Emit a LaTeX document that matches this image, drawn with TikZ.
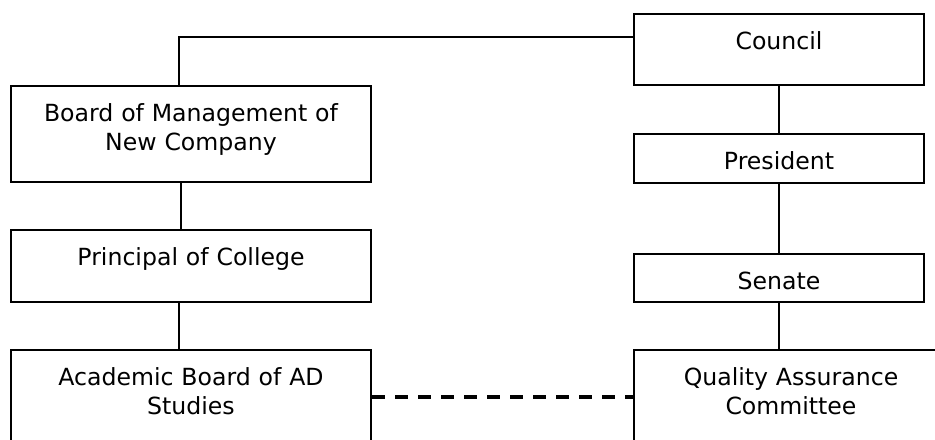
\documentclass[tikz,border=0pt]{standalone}
\usepackage{fontspec}
\setmainfont{DejaVu Sans}
\usepackage{tikz}

\tikzset{
  orgbox/.style={draw, line width=1pt, inner sep=0pt, align=center,
    anchor=north west, text height=17.5pt},
  linkdash/.style={line width=1.8pt, dash pattern=on 6.5pt off 5pt}
}

\begin{document}
\begin{tikzpicture}[x=0.5pt, y=-0.5pt, font=\fontsize{11.8}{14.5}\selectfont]

\useasboundingbox (0,0) rectangle (935,439);
\clip (0,0) rectangle (935,439);

\node[orgbox, text width=145pt, text depth=18pt] (council) at (633,13) {Council};
\node[orgbox, text width=145pt, text depth=7pt] (president) at (633,133) {President};
\node[orgbox, text width=145pt, text depth=6.5pt] (senate) at (633,253) {Senate};
\node[orgbox, text width=157pt, text depth=48pt] (qa) at (633,349) {Quality Assurance\\Committee};

\node[orgbox, text width=180pt, text depth=30.5pt] (board) at (10,85) {Board of Management of\\New Company};
\node[orgbox, text width=180pt, text depth=18.5pt] (principal) at (10,229) {Principal of College};
\node[orgbox, text width=180pt, text depth=48pt] (academic) at (10,349) {Academic Board of AD\\Studies};

\draw[line width=1pt] ([yshift=-12pt]council.north west) -| ([xshift=-6pt]board.north);
\draw[line width=1pt] (council.south) -- (president.north);
\draw[line width=1pt] (president.south) -- (senate.north);
\draw[line width=1pt] (senate.south) -- (senate.south |- qa.north);

\draw[line width=1pt] ([xshift=-5pt]board.south) -- ([xshift=-5pt]principal.north);
\draw[line width=1pt] ([xshift=-6pt]principal.south) -- ([xshift=-6pt]academic.north);

\draw[linkdash] ([yshift=-24pt]academic.north east) -- ([yshift=-24pt]qa.north west);

\end{tikzpicture}
\end{document}
